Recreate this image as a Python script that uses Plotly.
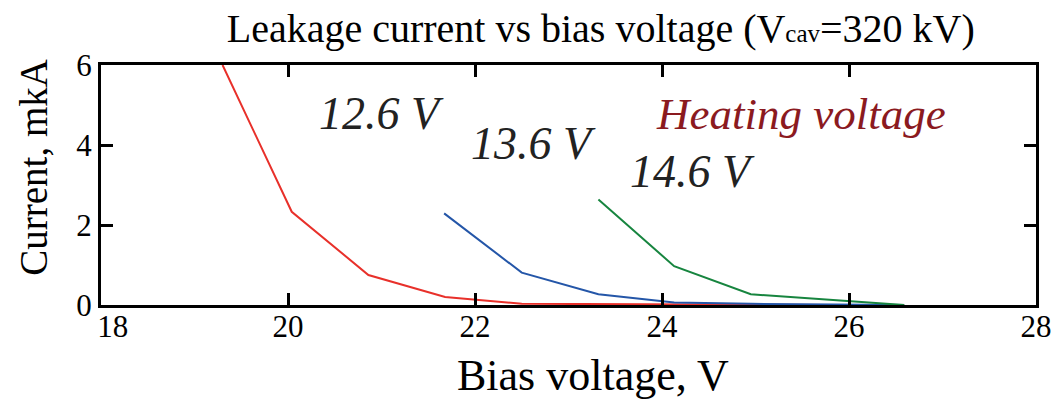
import plotly.graph_objects as go

# bias voltage (V) and leakage current (mkA) per heating voltage
bias_126 = [19.3, 20.04, 20.86, 21.68, 22.50, 23.32, 24.13, 24.95, 25.77, 26.59]
curr_126 = [6.0, 2.33, 0.75, 0.2, 0.03, 0.02, 0.01, 0.0, 0.0, 0.0]

bias_136 = [21.67, 22.50, 23.32, 24.13, 24.95, 25.77, 26.59]
curr_136 = [2.29, 0.81, 0.27, 0.06, 0.03, 0.02, 0.0]

bias_146 = [23.32, 24.13, 24.95, 25.77, 26.59]
curr_146 = [2.64, 0.97, 0.27, 0.13, 0.0]

x_ticks = [18, 20, 22, 24, 26, 28]
x_tick_labels = ['\u00a0\u00a0\u00a018', '20', '22', '24', '26', '28']
y_ticks = [0, 2, 4, 6]

FONT = "Liberation Serif"

fig = go.Figure()

# red, blue, green curves
fig.add_trace(go.Scatter(x=bias_126, y=curr_126, mode='lines',
                         line=dict(color='#e8302a', width=2)))
fig.add_trace(go.Scatter(x=bias_136, y=curr_136, mode='lines',
                         line=dict(color='#2456a8', width=2)))
fig.add_trace(go.Scatter(x=bias_146, y=curr_146, mode='lines',
                         line=dict(color='#17853f', width=2)))

# curve labels
labels = [
    ("12.6 V", 20.31, 4.8, '#222222', 46),
    ("13.6 V", 21.94, 4.05, '#222222', 46),
    ("14.6 V", 23.64, 3.33, '#222222', 46),
    ("Heating voltage", 23.91, 4.78, '#8b1a1f', 45),
]
for txt, lx, ly, col, sz in labels:
    fig.add_annotation(x=lx, y=ly, text=txt, showarrow=False,
                       xanchor='left', yanchor='middle',
                       font=dict(family=FONT, size=sz, color=col, style='italic'))

# axis titles
fig.add_annotation(x=0.526, y=-0.295, xref='paper', yref='paper',
                   text="Bias voltage, V", showarrow=False,
                   xanchor='center', yanchor='middle',
                   font=dict(family=FONT, size=44, color='black'))
fig.add_annotation(x=-0.073, y=0.575, xref='paper', yref='paper',
                   text="Current, mkA", showarrow=False, textangle=-90,
                   xanchor='center', yanchor='middle',
                   font=dict(family=FONT, size=39, color='black'))

axis_style = dict(
    showline=True, linecolor='black', linewidth=3, mirror='ticks',
    ticks='inside', ticklen=12, tickwidth=2.5, tickcolor='black',
    showgrid=False, zeroline=False, automargin=False,
    tickfont=dict(family=FONT, size=31, color='black'),
)

fig.update_layout(
    width=1054, height=403,
    margin=dict(l=101, r=18, t=65, b=98, autoexpand=False),
    paper_bgcolor='white', plot_bgcolor='white',
    showlegend=False,
    title=dict(text="Leakage current vs bias voltage (V<span style='font-size:25px'>cav</span>=320 kV)",
               x=0.57, xanchor='center', y=0.93, yanchor='middle',
               font=dict(family=FONT, size=40, color='black')),
    xaxis=dict(range=[18, 28], tickvals=x_ticks, ticktext=x_tick_labels,
               ticklabelstandoff=-8, **axis_style),
    yaxis=dict(range=[0, 6], tickvals=y_ticks, **axis_style),
)

fig.write_html("out.html", config={'displayModeBar': False},
               post_script="document.body.style.margin='0';")
